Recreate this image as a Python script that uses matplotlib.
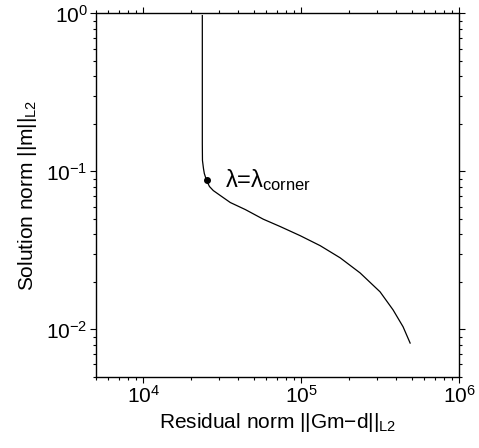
import matplotlib
matplotlib.use("Agg")
import matplotlib.pyplot as plt

plt.rcParams['font.family'] = ['Liberation Sans', 'DejaVu Sans']
plt.rcParams['mathtext.fontset'] = 'custom'
plt.rcParams['mathtext.rm'] = 'Liberation Sans'
plt.rcParams['mathtext.it'] = 'Liberation Sans'
plt.rcParams['mathtext.bf'] = 'Liberation Sans:bold'

# L-curve data
residual_norm = [23600, 23600, 23600, 23650, 24000, 24300, 25100, 26200, 27700,
                 30700, 35500, 44200, 57400, 73600, 98600, 131900, 176500,
                 236000, 316000, 382000, 442000, 490000]
solution_norm = [0.97, 0.30, 0.15, 0.1174, 0.1045, 0.0971, 0.0877, 0.0803, 0.0757,
                 0.0704, 0.0636, 0.0574, 0.0499, 0.0448, 0.0392, 0.0339, 0.0284,
                 0.0228, 0.0173, 0.0133, 0.0104, 0.0082]
corner_residual = 25100
corner_solution = 0.0877
corner_label = r'$\lambda$=$\lambda_{\rm corner}$'

fig = plt.figure(figsize=(4.79, 4.48), dpi=100)
ax = fig.add_axes([96/479, 1-377/448, (459-96)/479, (377-13.5)/448])

ax.plot(residual_norm, solution_norm, color='black', lw=0.9)
ax.plot([corner_residual], [corner_solution], 'o', color='black', ms=4)
ax.annotate(corner_label, (corner_residual, corner_solution),
            xytext=(13, -5), textcoords='offset points',
            fontsize=17, va='baseline', ha='left')

ax.set_xscale('log')
ax.set_yscale('log')
ax.set_xlim(5e3, 1e6)
ax.set_ylim(5e-3, 1)

ax.set_xlabel(r'Residual norm ||Gm−d||$_{\rm L2}$', fontsize=15, labelpad=3)
ax.set_ylabel(r'Solution norm ||m||$_{\rm L2}$', fontsize=15, labelpad=5)

for s in ax.spines.values():
    s.set_linewidth(1.0)
ax.tick_params(which='both', direction='out', top=True, right=True,
               labeltop=False, labelright=False, width=0.8)
ax.tick_params(which='major', length=4, labelsize=15, pad=2)
ax.tick_params(which='minor', length=2.4)

fig.savefig('out.png', dpi=100)
